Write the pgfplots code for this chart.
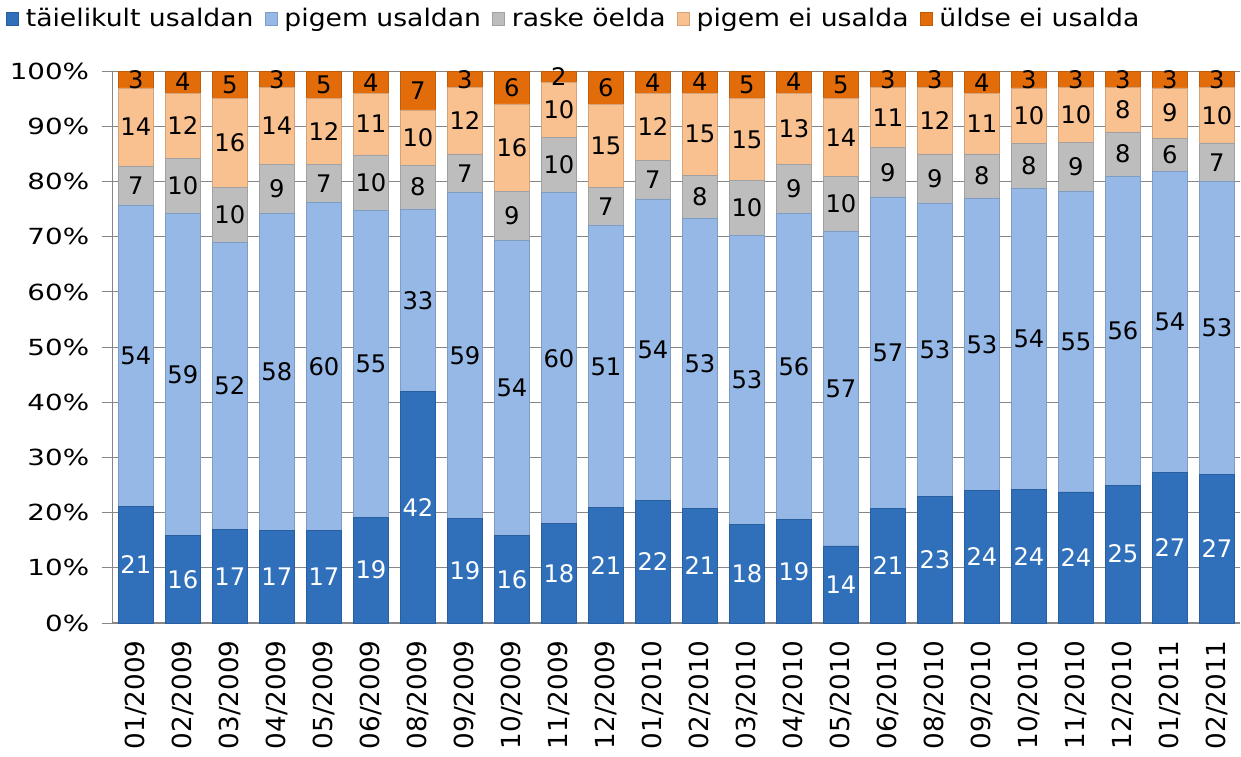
\documentclass[border=0pt]{standalone}
\usepackage{fontspec}
\setmainfont{DejaVu Sans}
\newfontfamily\legfont{DejaVu Sans}[FakeStretch=1.1]
\newfontfamily\tickfont{DejaVu Sans}[FakeStretch=1.25]
\usepackage{pgfplots}
\usepackage{pgfplotstable}
\pgfplotsset{compat=1.18}

\definecolor{c1}{HTML}{3070BB}
\definecolor{c2}{HTML}{95B8E6}
\definecolor{c3}{HTML}{BDBDBD}
\definecolor{c4}{HTML}{F9C090}
\definecolor{c5}{HTML}{E36C0A}
\definecolor{gridc}{HTML}{868686}

% a = täielikult usaldan, b = pigem usaldan, c = raske öelda,
% d = pigem ei usalda, e = üldse ei usalda, tot = row sum
\pgfplotstableread{
i  lab      a  b  c  d  e  tot
0  01/2009  21 54 7  14 3  99
1  02/2009  16 59 10 12 4  101
2  03/2009  17 52 10 16 5  100
3  04/2009  17 58 9  14 3  101
4  05/2009  17 60 7  12 5  101
5  06/2009  19 55 10 11 4  99
6  08/2009  42 33 8  10 7  100
7  09/2009  19 59 7  12 3  100
8  10/2009  16 54 9  16 6  101
9  11/2009  18 60 10 10 2  100
10 12/2009  21 51 7  15 6  100
11 01/2010  22 54 7  12 4  99
12 02/2010  21 53 8  15 4  101
13 03/2010  18 53 10 15 5  101
14 04/2010  19 56 9  13 4  101
15 05/2010  14 57 10 14 5  100
16 06/2010  21 57 9  11 3  101
17 08/2010  23 53 9  12 3  100
18 09/2010  24 53 8  11 4  100
19 10/2010  24 54 8  10 3  99
20 11/2010  24 55 9  10 3  101
21 12/2010  25 56 8  8  3  100
22 01/2011  27 54 6  9  3  99
23 02/2011  27 53 7  10 3  100
}\data

\pgfplotsset{
  shared/.style={
    scale only axis, width=559pt, height=273.5pt,
    xmin=-0.5, xmax=23.5, ymin=0, ymax=100,
    /pgf/number format/assume math mode=true,
  },
  seg/.style={fill=#1, draw=#1!85!black, line width=0.3pt},
}

\begin{document}
\begin{tikzpicture}
\begin{axis}[shared,
  ybar stacked, bar width=17pt,
  axis x line*=bottom, axis y line*=left,
  axis line style={draw=gridc, line width=0.6pt, -},
  ymajorgrids, grid style={draw=gridc, line width=0.5pt},
  ytick={0,10,...,100},
  yticklabel={\pgfmathprintnumber{\tick}\%},
  yticklabel style={font=\tickfont\fontsize{11}{13}\selectfont, xshift=-3pt},
  tick align=outside, major tick length=5pt,
  ytick style={draw=gridc, line width=0.5pt},
  xtick={0,...,23},
  xticklabels from table={\data}{lab},
  xtick style={draw=none},
  xticklabel style={rotate=90, anchor=east, font=\fontsize{13}{15}\selectfont},
  legend columns=5,
  legend style={at={(-0.1,1.095)}, anchor=west, draw=none, fill=none,
                font=\legfont\fontsize{12}{14}\selectfont,
                /tikz/every odd column/.append style={column sep=1.5pt},
                /tikz/every even column/.append style={column sep=3.5pt}},
  legend image code/.code={\fill[#1] (0pt,-3pt) rectangle (6pt,3pt);},
]
\addplot[seg=c1] table[x=i, y expr=\thisrow{a}/\thisrow{tot}*100]{\data};
\addlegendentry{täielikult usaldan}
\addplot[seg=c2] table[x=i, y expr=\thisrow{b}/\thisrow{tot}*100]{\data};
\addlegendentry{pigem usaldan}
\addplot[seg=c3] table[x=i, y expr=\thisrow{c}/\thisrow{tot}*100]{\data};
\addlegendentry{raske öelda}
\addplot[seg=c4] table[x=i, y expr=\thisrow{d}/\thisrow{tot}*100]{\data};
\addlegendentry{pigem ei usalda}
\addplot[seg=c5] table[x=i, y expr=\thisrow{e}/\thisrow{tot}*100]{\data};
\addlegendentry{üldse ei usalda}
\end{axis}

% segment labels, centred in each segment
\begin{axis}[shared, hide axis,
  nodes near coords, point meta=explicit,
  every node near coord/.style={font=\fontsize{12}{14}\selectfont,
                                anchor=center, inner sep=0pt, text=black},
]
\addplot[draw=none, mark=none, nodes near coords style={text=white}]
  table[x=i, y expr=\thisrow{a}/2/\thisrow{tot}*100, meta=a]{\data};
\addplot[draw=none, mark=none]
  table[x=i, y expr=(\thisrow{a}+\thisrow{b}/2)/\thisrow{tot}*100, meta=b]{\data};
\addplot[draw=none, mark=none]
  table[x=i, y expr=(\thisrow{a}+\thisrow{b}+\thisrow{c}/2)/\thisrow{tot}*100, meta=c]{\data};
\addplot[draw=none, mark=none]
  table[x=i, y expr=(\thisrow{a}+\thisrow{b}+\thisrow{c}+\thisrow{d}/2)/\thisrow{tot}*100, meta=d]{\data};
\addplot[draw=none, mark=none]
  table[x=i, y expr=(\thisrow{a}+\thisrow{b}+\thisrow{c}+\thisrow{d}+\thisrow{e}/2)/\thisrow{tot}*100, meta=e]{\data};
\end{axis}
\end{tikzpicture}
\end{document}
